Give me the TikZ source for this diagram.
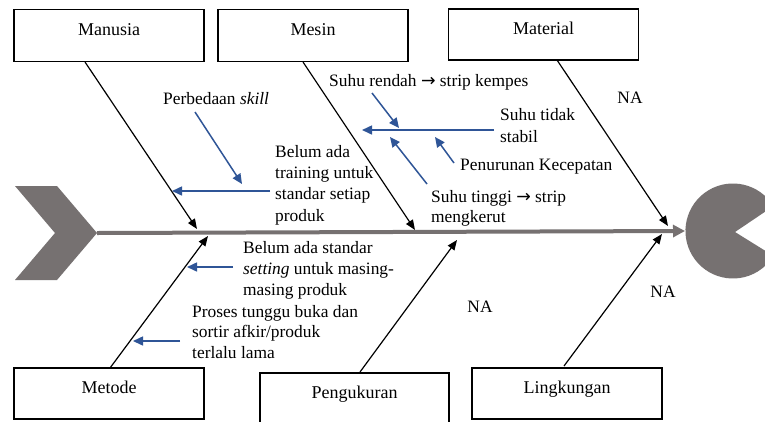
\documentclass[tikz,border=0pt]{standalone}
\usepackage{fontspec}
\setmainfont{Liberation Serif}
\newfontfamily\arrowfont{DejaVu Sans}
\usetikzlibrary{arrows.meta}
\definecolor{fbgray}{RGB}{118,113,113}
\definecolor{fbblue}{RGB}{47,85,151}
\begin{document}
\begin{tikzpicture}[x=1pt,y=-1pt,
  catbox/.style={draw=black, line width=1.4pt, minimum width=190pt, minimum height=52pt, inner sep=0pt,
    font=\fontsize{18}{21}\selectfont, text height=10pt, text depth=10pt},
  bone/.style={draw=black, line width=1.2pt, -{Triangle[length=10pt,width=8pt]}},
  cause/.style={draw=fbblue, line width=1.5pt, -{Triangle[length=10pt,width=9pt]}},
  note/.style={font=\fontsize{17.4}{21}\selectfont, align=left, inner sep=0pt, anchor=base west},
  na/.style={font=\fontsize{17.4}{21}\selectfont, inner sep=0pt, anchor=base}]
\useasboundingbox (0,0) rectangle (765,421);
\fill[white] (0,0) rectangle (765,421);
\begin{scope}
\clip (0,0) rectangle (765,421);
% category boxes
\node[catbox] (manusia) at (109,35.5) {Manusia};
\node[catbox] (mesin) at (313,35.5) {Mesin};
\node[catbox, minimum height=51pt] (material) at (543.5,34.5) {Material};
\node[catbox, minimum height=51pt] (metode) at (109,393.5) {Metode};
\node[catbox, minimum width=189pt, minimum height=51pt] (pengukuran) at (354.5,398.5) {Pengukuran};
\node[catbox, minimum height=51pt] (lingkungan) at (567,393.5) {Lingkungan};
% tail and head
\fill[fbgray] (15,186) -- (57,186) -- (97,233) -- (57,280) -- (15,280) -- (55,233) -- cycle;
\coordinate (tail) at (97,233);
\fill[fbgray] (735,232) -- (773.4,206.1) arc[start angle=-31.6, end angle=-328.4, radius=47.5] -- cycle;
\coordinate (head) at (685,231);
\draw[fbgray, line width=4pt, -{Triangle[length=12pt,width=12pt]}] (tail) -- (head);
% bone coordinates
\coordinate (manS) at (85,62);   \coordinate (manT) at (197,229);
\coordinate (mesS) at (303,62);  \coordinate (mesT) at (415,230);
\coordinate (matS) at (557,60);  \coordinate (matT) at (668,226);
\coordinate (metS) at (110,368); \coordinate (metT) at (208,236);
\coordinate (penS) at (360,372); \coordinate (penT) at (457,240);
\coordinate (linS) at (564,366); \coordinate (linT) at (662,234);
\draw[bone] (manS) -- (manT);
\draw[bone] (mesS) -- (mesT);
\draw[bone] (matS) -- (matT);
\draw[bone] (metS) -- (metT);
\draw[bone] (penS) -- (penT);
\draw[bone] (linS) -- (linT);
% texts (multi-line nodes: base anchor = last line)
\node[note] (skill) at (163,104) {Perbedaan \textit{skill}};
\node[note, font=\fontsize{17.4}{21.3}\selectfont] (training) at (275,221) {Belum ada\\training untuk\\standar setiap\\produk};
\node[note] (rendah) at (329,86) {Suhu rendah {\arrowfont →} strip kempes};
\node[note, font=\fontsize{17.4}{22}\selectfont] (tidak) at (500,142) {Suhu tidak\\stabil};
\node[note] (turun) at (460,170) {Penurunan Kecepatan};
\node[note, font=\fontsize{17.4}{20}\selectfont] (tinggi) at (431,222) {Suhu tinggi {\arrowfont →} strip\\mengkerut};
\node[note, font=\fontsize{17.4}{21}\selectfont] (setting) at (243,295) {Belum ada standar\\\textit{setting} untuk masing-\\masing produk};
\node[note, font=\fontsize{17.4}{20.5}\selectfont] (proses) at (192,358) {Proses tunggu buka dan\\sortir afkir/produk\\terlalu lama};
\node[na] (na1) at (630,103) {NA};
\node[na] (na2) at (480,312) {NA};
\node[na] (na3) at (663,297) {NA};
% blue cause arrows
\coordinate (a1s) at (195,112); \coordinate (a1t) at (242,184);
\coordinate (a2s) at (270,191); \coordinate (a2t) at (172,191);
\coordinate (a3s) at (372,93);  \coordinate (a3t) at (399,128);
\coordinate (a4s) at (494,130); \coordinate (a4t) at (362,130);
\coordinate (a5s) at (427,184); \coordinate (a5t) at (390,137);
\coordinate (a6s) at (454,163); \coordinate (a6t) at (435,137);
\coordinate (a7s) at (233,267); \coordinate (a7t) at (187,267);
\coordinate (a8s) at (180,341); \coordinate (a8t) at (133,341);
\draw[cause] (a1s) -- (a1t);
\draw[cause] (a2s) -- (a2t);
\draw[cause] (a3s) -- (a3t);
\draw[cause] (a4s) -- (a4t);
\draw[cause] (a5s) -- (a5t);
\draw[cause] (a6s) -- (a6t);
\draw[cause] (a7s) -- (a7t);
\draw[cause] (a8s) -- (a8t);
\end{scope}
\end{tikzpicture}
\end{document}
